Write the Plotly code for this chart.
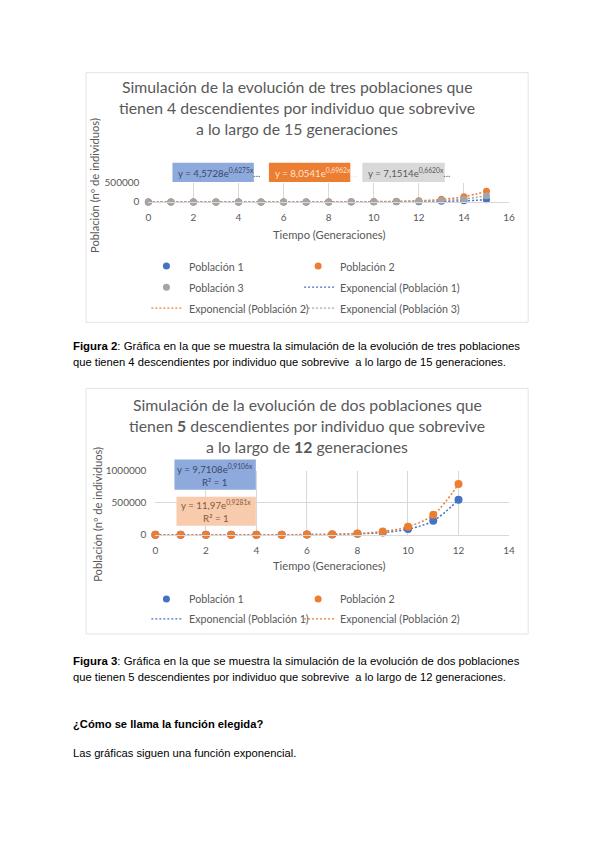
import plotly.graph_objects as go

# Layout is written in reference-page pixel coordinates; px/py convert them to paper fractions
# (calibrated for the 8px page margin of the written HTML page).
W, H = 584, 832
X0, XS = 13.3, 572.3
Y0, YS = 15.5, 817.0


def px(x):
    return (x - X0) / XS


def py(y):
    return 1 - (y - Y0) / YS


# ---------------- data ----------------
# Figura 2 (4 descendientes, 15 generaciones)
gen_a = list(range(16))
pob1_a = [1, 8, 17, 30, 55, 110, 200, 380, 700, 1300, 2400, 4600, 8500, 16000, 30000, 57000]
pob2_a = [1, 16, 33, 65, 130, 260, 530, 1050, 2100, 4200, 8500, 17000, 34000, 68000, 137000, 280000]
pob3_a = [1, 14, 27, 52, 100, 195, 380, 740, 1400, 2800, 5400, 10500, 20000, 39000, 76000, 165000]
eq_a = ["y = 4,5728e<sup>0,6275x</sup>...", "y = 8,0541e<sup>0,6962x</sup>...", "y = 7,1514e<sup>0,6620x</sup>..."]

# Figura 3 (5 descendientes, 12 generaciones)
gen_b = list(range(13))
pob1_b = [1, 20, 60, 150, 360, 900, 2300, 5700, 14000, 35000, 88000, 219000, 547000]
pob2_b = [1, 30, 75, 190, 470, 1200, 3000, 7600, 20000, 52000, 125000, 312000, 790000]
eq_b = ["y = 9,7108e<sup>0,9106x</sup><br>R² = 1", "y = 11,97e<sup>0,9281x</sup><br>R² = 1"]

x_ticks_a = [0, 2, 4, 6, 8, 10, 12, 14, 16]
x_ticks_b = [0, 2, 4, 6, 8, 10, 12, 14]
y_ticks_a = [0, 500000]
y_ticklabels_a = ["0", "500000"]
y_ticks_b = [0, 500000, 1000000]
y_ticklabels_b = ["0", "500000", "1000000"]

BLUE, ORANGE, GRAY = "#4472C4", "#ED7D31", "#A5A5A5"
TXT = "#595959"
GRID = "#D9D9D9"
FONT = "Lato"
DOT = "2px,2px"

fig = go.Figure()

# chart 1 trendlines then markers
for vals, col in [(pob1_a, BLUE), (pob2_a, ORANGE), (pob3_a, GRAY)]:
    fig.add_trace(go.Scatter(x=gen_a, y=vals, mode="lines", xaxis="x", yaxis="y",
                             line=dict(color=col, dash=DOT, width=1.5, shape="spline"),
                             hoverinfo="skip", showlegend=False, cliponaxis=False))
for vals, col in [(pob1_a, BLUE), (pob2_a, ORANGE), (pob3_a, GRAY)]:
    fig.add_trace(go.Scatter(x=gen_a, y=vals, mode="markers", xaxis="x", yaxis="y",
                             marker=dict(color=col, size=7), showlegend=False, cliponaxis=False))

# chart 2
for vals, col in [(pob1_b, BLUE), (pob2_b, ORANGE)]:
    fig.add_trace(go.Scatter(x=gen_b, y=vals, mode="lines", xaxis="x2", yaxis="y2",
                             line=dict(color=col, dash=DOT, width=1.5, shape="spline"),
                             hoverinfo="skip", showlegend=False, cliponaxis=False))
for vals, col in [(pob1_b, BLUE), (pob2_b, ORANGE)]:
    fig.add_trace(go.Scatter(x=gen_b, y=vals, mode="markers", xaxis="x2", yaxis="y2",
                             marker=dict(color=col, size=8), showlegend=False, cliponaxis=False))

axis_common = dict(showgrid=True, gridcolor=GRID, gridwidth=1, zeroline=False,
                   ticks="", tickfont=dict(family=FONT, size=10, color=TXT), fixedrange=True)

fig.update_layout(
    width=W, height=H, margin=dict(l=0, r=0, t=0, b=0),
    paper_bgcolor="white", plot_bgcolor="white", showlegend=False,
    xaxis=dict(domain=[px(150), px(509)], range=[0, 16], tickvals=x_ticks_a,
               showline=True, linecolor=GRID, anchor="y", ticklabelstandoff=6, **axis_common),
    yaxis=dict(domain=[py(202), py(183)], range=[0, 500000], tickvals=y_ticks_a, ticktext=y_ticklabels_a,
               anchor="x", ticklabelstandoff=8, **axis_common),
    xaxis2=dict(domain=[px(157), px(509)], range=[0, 14], tickvals=x_ticks_b,
                showline=True, linecolor=GRID, anchor="y2", ticklabelstandoff=6, **axis_common),
    yaxis2=dict(domain=[py(534), py(470)], range=[0, 1000000], tickvals=y_ticks_b, ticktext=y_ticklabels_b,
                anchor="x2", ticklabelstandoff=8, **axis_common),
)

shapes = []
ann = []


def text(x, y, s, size=11, color=TXT, xanchor="left", family=FONT, **kw):
    ann.append(dict(x=px(x), y=py(y), xref="paper", yref="paper", text=s, showarrow=False,
                    xanchor=xanchor, yanchor="middle", font=dict(family=family, size=size, color=color), **kw))


# chart frames
shapes.append(dict(type="rect", xref="paper", yref="paper", x0=px(88), x1=px(528), y0=py(322), y1=py(73),
                   line=dict(color="#E3E3E3", width=1)))
shapes.append(dict(type="rect", xref="paper", yref="paper", x0=px(88), x1=px(528), y0=py(633), y1=py(388),
                   line=dict(color="#E3E3E3", width=1)))

# titles
for i, line in enumerate(["Simulación de la evolución de tres poblaciones que",
                          "tienen 4 descendientes por individuo que sobrevive",
                          "a lo largo de 15 generaciones"]):
    text(298, 87 + 21 * i, line, size=15.8, xanchor="center")
for i, line in enumerate(["Simulación de la evolución de dos poblaciones que",
                          "tienen <b>5</b> descendientes por individuo que sobrevive",
                          "a lo largo de <b>12</b> generaciones"]):
    text(308, 404 + 21 * i, line, size=15.8, xanchor="center")

# axis titles
text(330, 234, "Tiempo (Generaciones)", size=11.2, xanchor="center")
text(330, 565, "Tiempo (Generaciones)", size=11.2, xanchor="center")
text(97, 186, "Población (nº de individuos)", size=11.2, xanchor="center", textangle=-90)
text(100, 514, "Población (nº de individuos)", size=11.2, xanchor="center", textangle=-90)

# equation boxes chart 1
for (x0, x1, fill, fcol), eq in zip([(174, 255, "#8EA9DB", "#3A4A6B"), (270, 351, ORANGE, "#FBE5D6"),
                                     (363, 445, "#D9D9D9", "#595959")], eq_a):
    shapes.append(dict(type="rect", xref="paper", yref="paper", x0=px(x0), x1=px(x1), y0=py(182), y1=py(163),
                       fillcolor=fill, line=dict(width=0), layer="below"))
    text(x0 + 4, 173, eq, size=9.7, color=fcol)

# equation boxes chart 2
for (x0, x1, y0, y1, fill, fcol), eq in zip([(176, 257, 459, 489, "#8EA9DB", "#3A4A6B"),
                                             (178, 257, 496, 525, "#F8CBAD", "#7F5A3F")], eq_b):
    shapes.append(dict(type="rect", xref="paper", yref="paper", x0=px(x0), x1=px(x1), y0=py(y1), y1=py(y0),
                       fillcolor=fill, line=dict(width=0)))
    text((x0 + x1) / 2, (y0 + y1) / 2, eq, size=9.7, color=fcol, xanchor="center")


# legends
def leg_marker(x, y, col):
    shapes.append(dict(type="circle", xref="paper", yref="paper", x0=px(x - 3.5), x1=px(x + 3.5),
                       y0=py(y + 3.5), y1=py(y - 3.5), fillcolor=col, line=dict(width=0)))


def leg_line(x0, x1, y, col):
    shapes.append(dict(type="line", xref="paper", yref="paper", x0=px(x0), x1=px(x1), y0=py(y), y1=py(y),
                       line=dict(color=col, width=1.2, dash=DOT)))


leg_marker(168, 266, BLUE); text(188, 266, "Población 1", size=10.7)
leg_marker(319, 266, ORANGE); text(339, 266, "Población 2", size=10.7)
leg_marker(168, 287, GRAY); text(188, 287, "Población 3", size=10.7)
leg_line(305, 335, 287, BLUE); text(339, 287, "Exponencial (Población 1)", size=10.7)
leg_line(153, 183, 308, ORANGE); text(188, 308, "Exponencial (Población 2)", size=10.7)
leg_line(305, 335, 308, GRAY); text(339, 308, "Exponencial (Población 3)", size=10.7)

leg_marker(168, 598, BLUE); text(188, 598, "Población 1", size=10.7)
leg_marker(319, 598, ORANGE); text(339, 598, "Población 2", size=10.7)
leg_line(153, 183, 618, BLUE); text(188, 618, "Exponencial (Población 1)", size=10.7)
leg_line(305, 335, 618, ORANGE); text(339, 618, "Exponencial (Población 2)", size=10.7)

# document text
DOC = "Liberation Sans"
text(73, 346, "<b>Figura 2</b>: Gráfica en la que se muestra la simulación de la evolución de tres poblaciones",
     size=11.4, color="#000000", family=DOC)
text(73, 362, "que tienen 4 descendientes por individuo que sobrevive  a lo largo de 15 generaciones.",
     size=11.2, color="#000000", family=DOC)
text(73, 660, "<b>Figura 3</b>: Gráfica en la que se muestra la simulación de la evolución de dos poblaciones",
     size=11.4, color="#000000", family=DOC)
text(73, 676, "que tienen 5 descendientes por individuo que sobrevive  a lo largo de 12 generaciones.",
     size=11.2, color="#000000", family=DOC)
text(73, 723, "<b>¿Cómo se llama la función elegida?</b>", size=11.2, color="#000000", family=DOC)
text(73, 752, "Las gráficas siguen una función exponencial.", size=11.2, color="#000000", family=DOC)

fig.update_layout(shapes=shapes, annotations=ann)
fig.write_html("out.html")
